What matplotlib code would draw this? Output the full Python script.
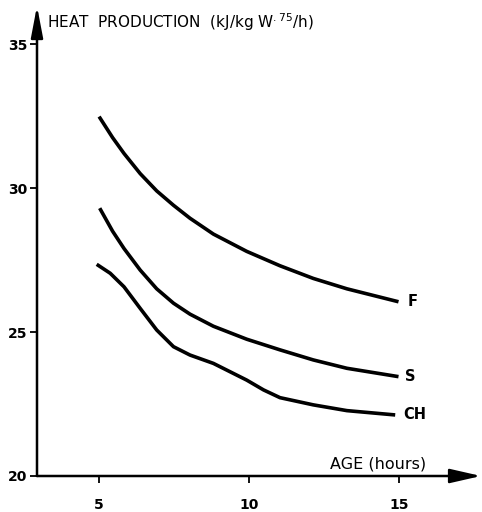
import matplotlib
matplotlib.use('Agg')
import matplotlib.pyplot as plt

# curves (age in hours, heat production)
f_age = [5.0, 5.45, 5.83, 6.37, 6.92, 7.48, 8.03, 8.81, 9.92, 11.03, 12.14, 13.26, 14.98]
f_heat = [32.48, 31.75, 31.2, 30.5, 29.9, 29.4, 28.95, 28.4, 27.8, 27.3, 26.86, 26.5, 26.05]

s_age = [5.02, 5.45, 5.83, 6.37, 6.92, 7.48, 8.03, 8.81, 9.92, 11.03, 12.14, 13.26, 14.98]
s_heat = [29.3, 28.5, 27.9, 27.15, 26.5, 26.0, 25.62, 25.2, 24.75, 24.38, 24.03, 23.74, 23.45]

ch_age = [4.92, 5.37, 5.83, 6.37, 6.92, 7.48, 8.03, 8.81, 9.92, 10.48, 11.03, 12.14, 13.26, 14.87]
ch_heat = [27.35, 27.04, 26.57, 25.82, 25.07, 24.49, 24.2, 23.91, 23.33, 22.99, 22.72, 22.47, 22.27, 22.12]

curve_names = ['F', 'S', 'CH']
label_x = [15.3, 15.2, 15.15]
yticks = [20, 25, 30, 35]
xticks = [5, 10, 15]

NUM_FONT = ['Liberation Sans Narrow', 'DejaVu Sans']

fig = plt.figure(figsize=(4.82, 5.12), dpi=100)
ax = fig.add_axes([37 / 482, 36 / 512, 444 / 482, 470 / 512])
ax.set_xlim(2.93, 17.73)
ax.set_ylim(20, 36.32)

for (xs, ys), name, lx in zip([(f_age, f_heat), (s_age, s_heat), (ch_age, ch_heat)],
                              curve_names, label_x):
    ax.plot(xs, ys, color='black', lw=2.6, solid_capstyle='butt', solid_joinstyle='round')
    ax.text(lx, ys[-1], name, fontsize=10.5, fontweight='bold', va='center', ha='left')

# axes drawn as arrows
for s in ax.spines.values():
    s.set_visible(False)
ax.annotate('', xy=(1, 0), xytext=(0, 0), xycoords='axes fraction',
            arrowprops=dict(arrowstyle='-|>,head_length=1.05,head_width=0.24', lw=1.8,
                            color='black', mutation_scale=18, shrinkA=0, shrinkB=0))
ax.annotate('', xy=(0, 1), xytext=(0, 0), xycoords='axes fraction',
            arrowprops=dict(arrowstyle='-|>,head_length=1.05,head_width=0.2', lw=1.8,
                            color='black', mutation_scale=18, shrinkA=0, shrinkB=0))

ax.set_xticks(xticks)
ax.set_yticks(yticks)
ax.set_xticklabels([str(t) for t in xticks], fontsize=10, fontweight='bold', family=NUM_FONT)
ax.set_yticklabels([str(t) for t in yticks], fontsize=10, fontweight='bold', family=NUM_FONT)
ax.tick_params(axis='x', length=5, width=1.3, pad=11)
ax.tick_params(axis='y', length=5, width=1.3, pad=2)

ax.text(3.27, 35.77, 'HEAT  PRODUCTION  (kJ/kg W$^{.75}$/h)', fontsize=11,
        ha='left', va='center')
ax.text(12.7, 20.4, 'AGE (hours)', fontsize=11.5, ha='left', va='center')

fig.savefig('out.png', dpi=100)
plt.close()
